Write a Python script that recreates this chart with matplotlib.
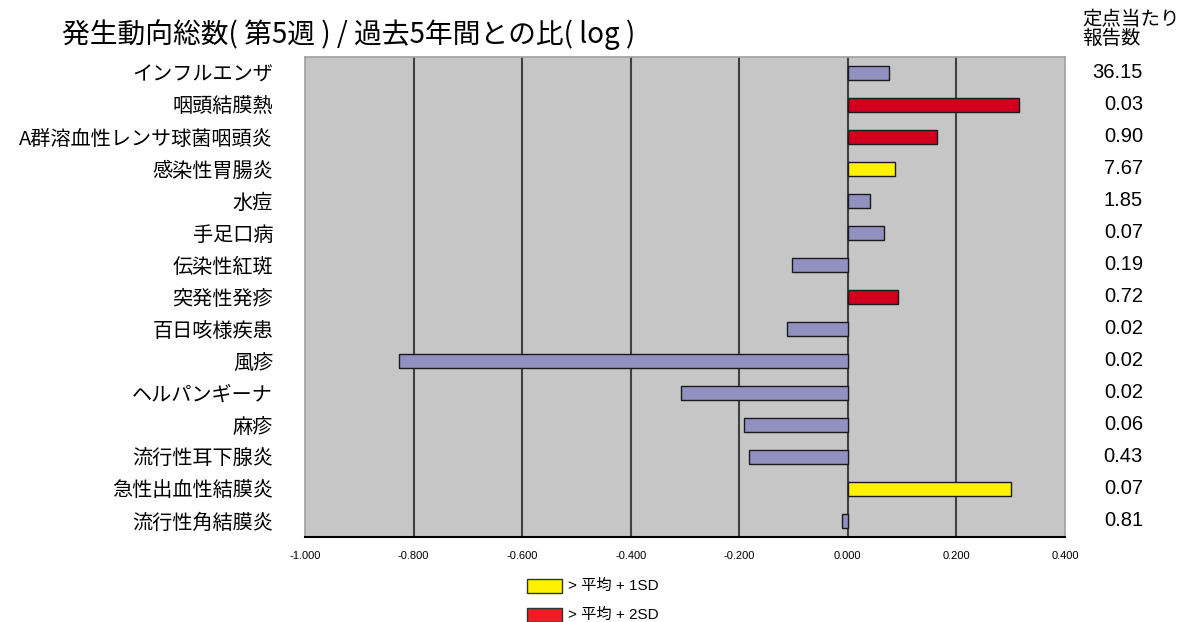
import matplotlib.pyplot as plt
import matplotlib.transforms as mtransforms
from matplotlib.patches import Rectangle
import numpy as np

plt.rcParams["font.family"] = ["Noto Sans CJK JP", "DejaVu Sans"]

# データ
diseases = [
    "インフルエンザ", "咽頭結膜熱", "A群溶血性レンサ球菌咽頭炎", "感染性胃腸炎",
    "水痘", "手足口病", "伝染性紅斑", "突発性発疹", "百日咳様疾患", "風疹",
    "ヘルパンギーナ", "麻疹", "流行性耳下腺炎", "急性出血性結膜炎", "流行性角結膜炎",
]
log_ratio = [
    0.076, 0.315, 0.165, 0.087, 0.040, 0.066, -0.102, 0.093, -0.112, -0.827,
    -0.308, -0.192, -0.183, 0.300, -0.010,
]
# 0: 通常, 1: > 平均+1SD, 2: > 平均+2SD
alert_level = [0, 2, 2, 1, 0, 0, 0, 2, 0, 0, 0, 0, 0, 1, 0]
per_sentinel = [
    "36.15", "0.03", "0.90", "7.67", "1.85", "0.07", "0.19", "0.72", "0.02",
    "0.02", "0.02", "0.06", "0.43", "0.07", "0.81",
]
x_ticks = [-1.0, -0.8, -0.6, -0.4, -0.2, 0.0, 0.2, 0.4]
legend_labels = ["> 平均 + 1SD", "> 平均 + 2SD"]
legend_colors = ["#FFF200", "#EE1C25"]

level_colors = {0: "#9190BF", 1: "#FFF200", 2: "#D2001E"}
W, H = 1182, 622

fig = plt.figure(figsize=(W / 100, H / 100), dpi=100)
ax = fig.add_axes([305 / W, 1 - 537 / H, 760 / W, 480 / H])
ax.set_facecolor("#C6C6C6")

y = np.arange(len(diseases))
colors = [level_colors[lv] for lv in alert_level]
ax.barh(y, log_ratio, height=0.44, color=colors, edgecolor="#1A1A1A",
        linewidth=1.0, zorder=3)

ax.set_xlim(-1.0, 0.4)
ax.set_ylim(len(diseases) - 0.5, -0.5)
ax.set_xticks(x_ticks)
ax.set_xticklabels([f"{t:.3f}" for t in x_ticks], fontsize=8,
                   family=["Liberation Sans", "DejaVu Sans"])
ax.set_yticks(y)
ax.set_yticklabels(diseases, fontsize=14.5)
ax.tick_params(axis="both", length=0)
ax.tick_params(axis="x", pad=10)
ax.tick_params(axis="y", pad=23)

for t in x_ticks[1:-1]:
    ax.axvline(t, color="#404040", linewidth=1.5, zorder=2)

for side in ["top", "right", "left"]:
    ax.spines[side].set_color("#A0A0A0")
    ax.spines[side].set_linewidth(1.2)
ax.spines["bottom"].set_color("black")
ax.spines["bottom"].set_linewidth(1.5)

# 定点当たり報告数
trans = mtransforms.blended_transform_factory(fig.transFigure, ax.transData)
for yi, val in zip(y, per_sentinel):
    ax.text(1143 / W, yi, val, transform=trans, ha="right", va="center",
            fontsize=14.5, family=["Liberation Sans", "DejaVu Sans"])
fig.text(1082 / W, 1 - 9 / H, "定点当たり\n報告数", ha="left", va="top",
         fontsize=14, linespacing=0.85)

fig.text(62 / W, 1 - 35 / H, "発生動向総数( 第5週 ) / 過去5年間との比( log )",
         ha="left", va="center", fontsize=20)

# 凡例
for i, (lab, col) in enumerate(zip(legend_labels, legend_colors)):
    top = 579 + 29 * i
    fig.patches.append(Rectangle((527 / W, 1 - (top + 14) / H), 35 / W, 14 / H,
                                 transform=fig.transFigure, facecolor=col,
                                 edgecolor="#333333", linewidth=1.0))
    fig.text(568 / W, 1 - (top + 7) / H, lab, ha="left", va="center",
             fontsize=11, family=["Liberation Sans", "Noto Sans CJK JP"])

fig.savefig("out.png", dpi=100)
